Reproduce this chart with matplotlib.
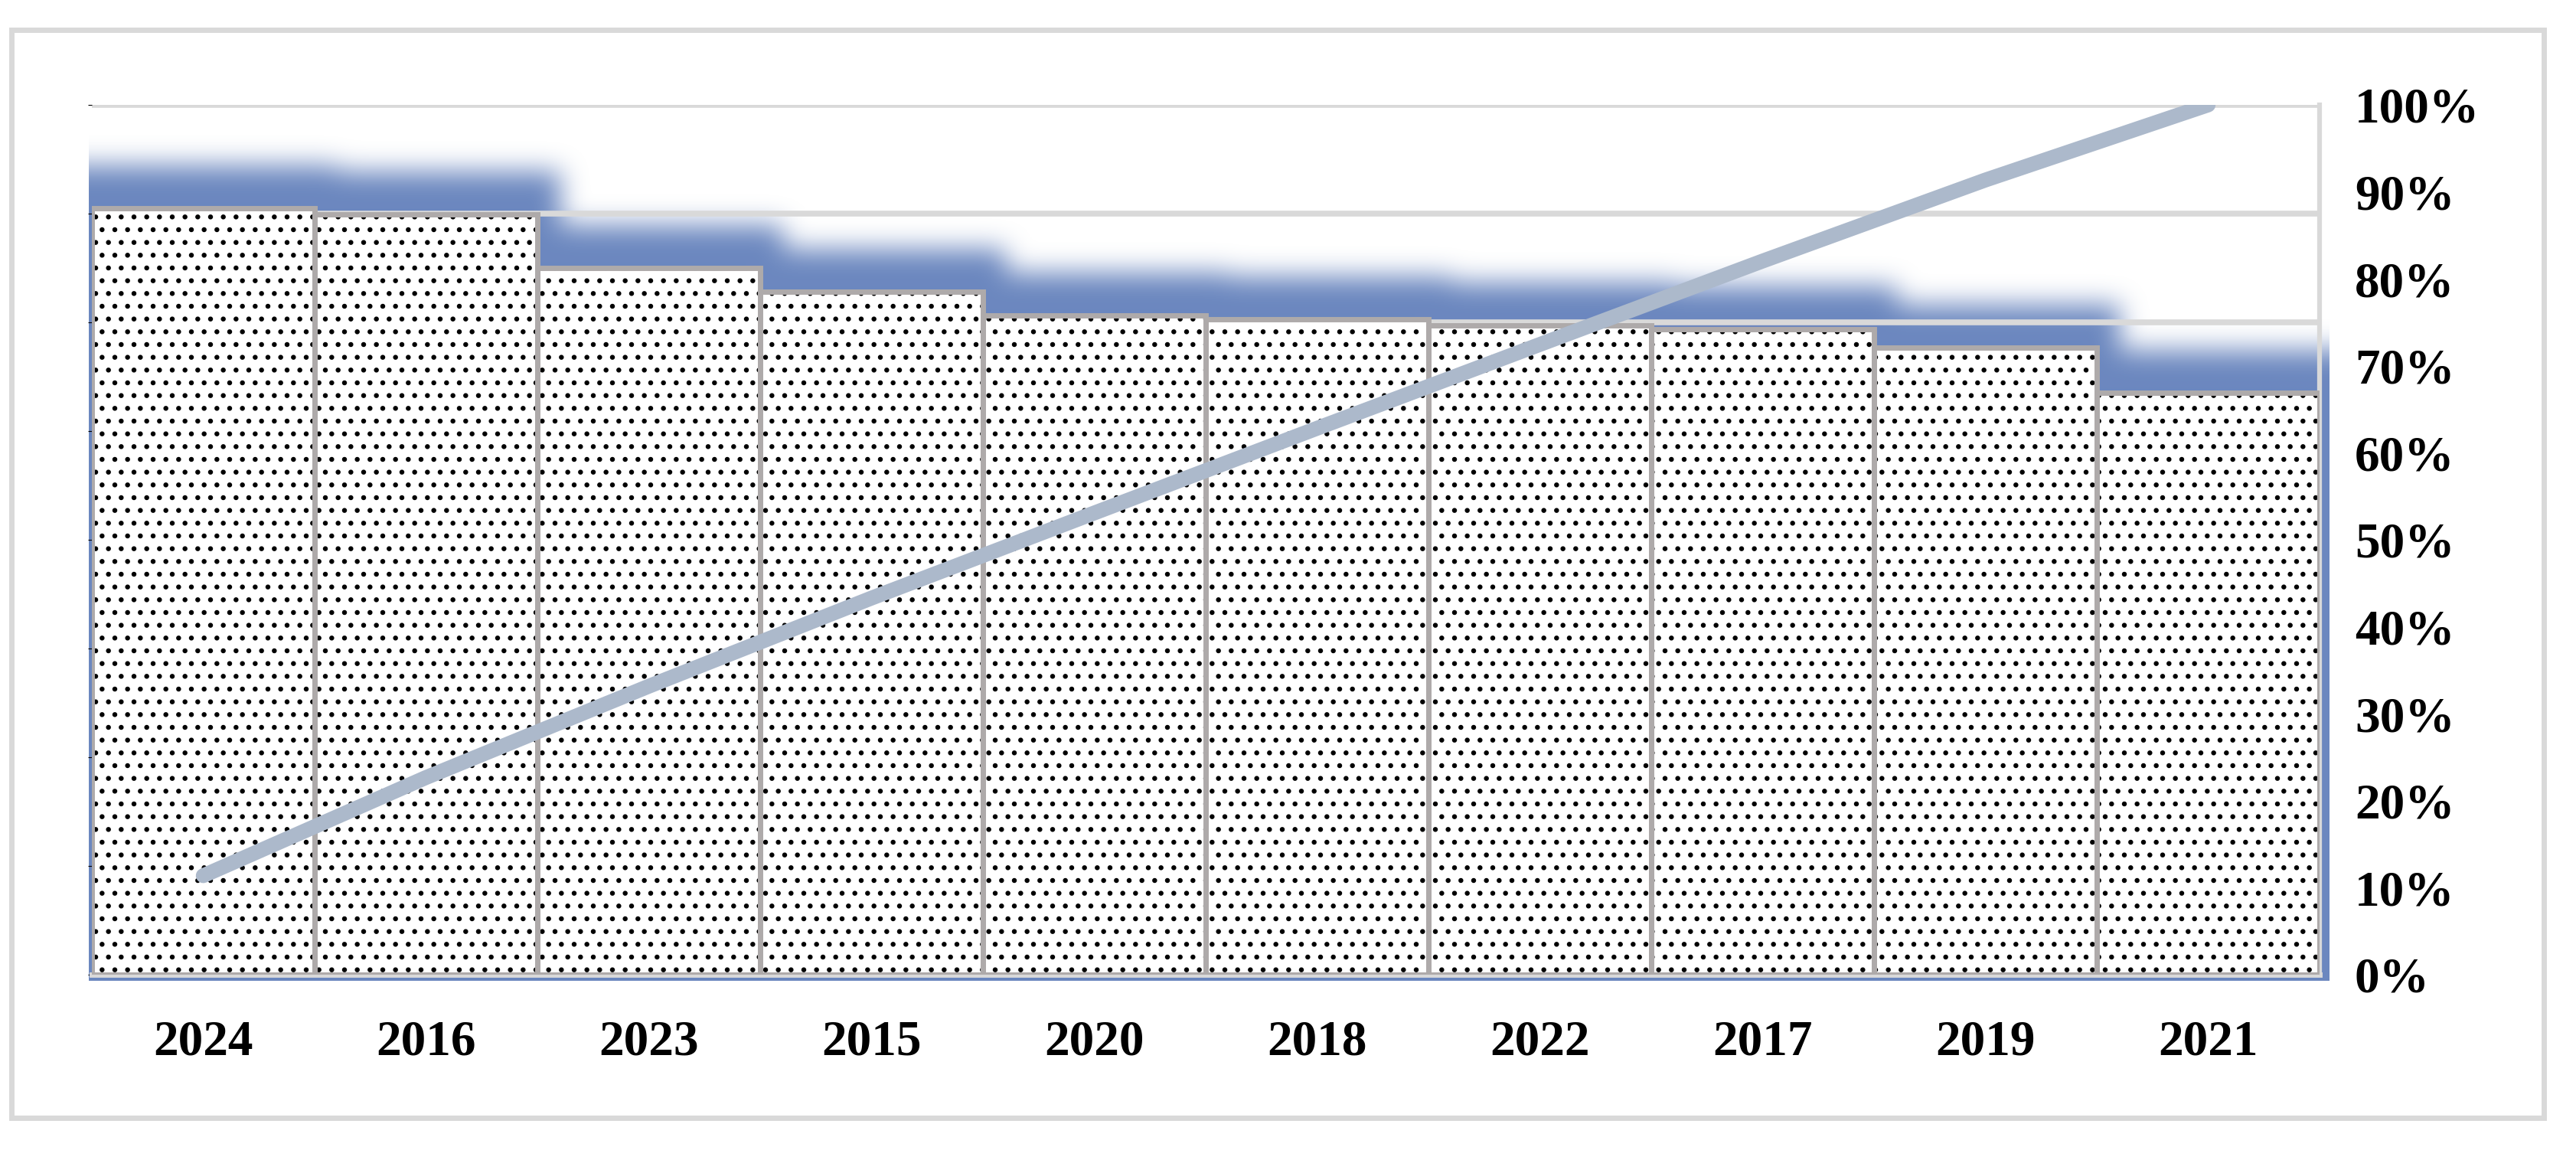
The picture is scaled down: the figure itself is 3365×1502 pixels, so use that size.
import numpy as np
import matplotlib.pyplot as plt
from matplotlib.patches import Rectangle

# Data (bars on a hidden 0-8 axis, line = cumulative share)
years = ['2024', '2016', '2023', '2015', '2020', '2018', '2022', '2017', '2019', '2021']
values = [7.05, 6.99, 6.50, 6.28, 6.06, 6.03, 5.97, 5.94, 5.77, 5.35]
pct_ticks = [0, 10, 20, 30, 40, 50, 60, 70, 80, 90, 100]
grid_ticks = [0, 1, 2, 3, 4, 5, 6, 7, 8]

cum_share = np.cumsum(values) / np.sum(values)
x = np.arange(len(years))

W, H = 3366, 1502
plt.rcParams['hatch.linewidth'] = 2.2
font = dict(family=['Liberation Serif', 'DejaVu Serif'], weight='bold', size=47)

fig = plt.figure(figsize=(W / 100, H / 100), dpi=100)

# plot area in pixels
left, right, top, bottom = 120, 3030, 137, 1273
ax = fig.add_axes([left / W, 1 - bottom / H, (right - left) / W, (bottom - top) / H])
xmin, xmax, ymax = -0.5, len(years) - 0.5, grid_ticks[-1]
sx = (right - left) / (xmax - xmin)   # px per bar unit
sy = (bottom - top) / ymax            # px per value unit

# --- blue glow behind the bars (blurred union of the bars) ---
pad = 120
ext_x, ext_top = 30, 56      # how far the glow reaches past the bars (px)
img_l, img_r, img_b = 4, 13, 8  # visible margins of the glow outside the bars
gx0 = xmin - (img_l + pad) / sx
gx1 = xmax + (img_r + pad) / sx
gy0 = -(img_b + pad) / sy
gy1 = ymax + pad / sy
nx = int(round((gx1 - gx0) * sx))
ny = int(round((gy1 - gy0) * sy))
xs = gx0 + (np.arange(nx) + 0.5) / sx
ys = gy0 + (np.arange(ny) + 0.5) / sy
mask = np.zeros((ny, nx))
for i, v in enumerate(values):
    in_x = np.abs(xs - i) <= 0.5 + ext_x / sx
    if i == 0:
        in_x |= xs < i
    if i == len(values) - 1:
        in_x |= xs > i
    in_y = ys <= v + ext_top / sy
    mask = np.maximum(mask, np.outer(in_y, in_x).astype(float))


def box_blur(a, r, axis):
    a = np.moveaxis(a, axis, -1)
    p = np.pad(a, [(0, 0), (r + 1, r)], mode='edge')
    c = np.cumsum(p, axis=-1)
    out = (c[:, 2 * r + 1:] - c[:, :-2 * r - 1]) / (2 * r + 1)
    return np.moveaxis(out, -1, axis)


for _ in range(3):
    mask = box_blur(mask, 16, 0)
    mask = box_blur(mask, 16, 1)

mask = mask[pad:ny - pad, pad:nx - pad]
glow = np.zeros(mask.shape + (4,))
glow[..., 0], glow[..., 1], glow[..., 2] = 0.42, 0.53, 0.75
glow[..., 3] = np.clip(mask, 0, 1)
ax.imshow(glow, origin='lower', aspect='auto', interpolation='bilinear',
          extent=[xmin - img_l / sx, xmax + img_r / sx, -img_b / sy, ymax],
          zorder=0.3, clip_on=False)

# bars: dotted fill, then grey outline
ax.bar(x, values, width=1.0, color='white', edgecolor='black', linewidth=0,
       hatch='.', zorder=2)
ax.bar(x, values, width=1.0, fill=False, edgecolor='#aeaaaa', linewidth=5, zorder=3)

ax.set_xlim(xmin, xmax)
ax.set_ylim(0, ymax)
ax.set_yticks(grid_ticks)
ax.set_axisbelow(True)
ax.yaxis.grid(True, color='#d9d9d9', linewidth=5.5)
ax.tick_params(axis='y', left=False, labelleft=False)
ax.set_xticks(x, years)
ax.tick_params(axis='x', length=0, pad=42)
for lab in ax.get_xticklabels():
    lab.set(**font)
for s in ['top', 'left']:
    ax.spines[s].set_visible(False)
ax.spines['bottom'].set_color('#d9d9d9')
ax.spines['bottom'].set_linewidth(5)
ax.spines['right'].set_color('#d9d9d9')
ax.spines['right'].set_linewidth(4.5)

# cumulative line on the percentage axis
ax2 = ax.twinx()
ax2.plot(x, cum_share, color='#acb9cb', linewidth=14, solid_capstyle='round', zorder=4)
ax2.set_ylim(0, 1)
ax2.set_yticks([p / 100 for p in pct_ticks], [f'{p}%' for p in pct_ticks])
ax2.tick_params(axis='y', length=0, pad=33)
for lab in ax2.get_yticklabels():
    lab.set(**font)
for s in ax2.spines.values():
    s.set_visible(False)

# outer chart border
fig.add_artist(Rectangle((15 / W, 1 - 1460 / H), (3323 - 15) / W, (1460 - 39) / H,
                         transform=fig.transFigure, fill=False,
                         edgecolor='#d9d9d9', linewidth=5))

fig.savefig('out.png', dpi=100)
